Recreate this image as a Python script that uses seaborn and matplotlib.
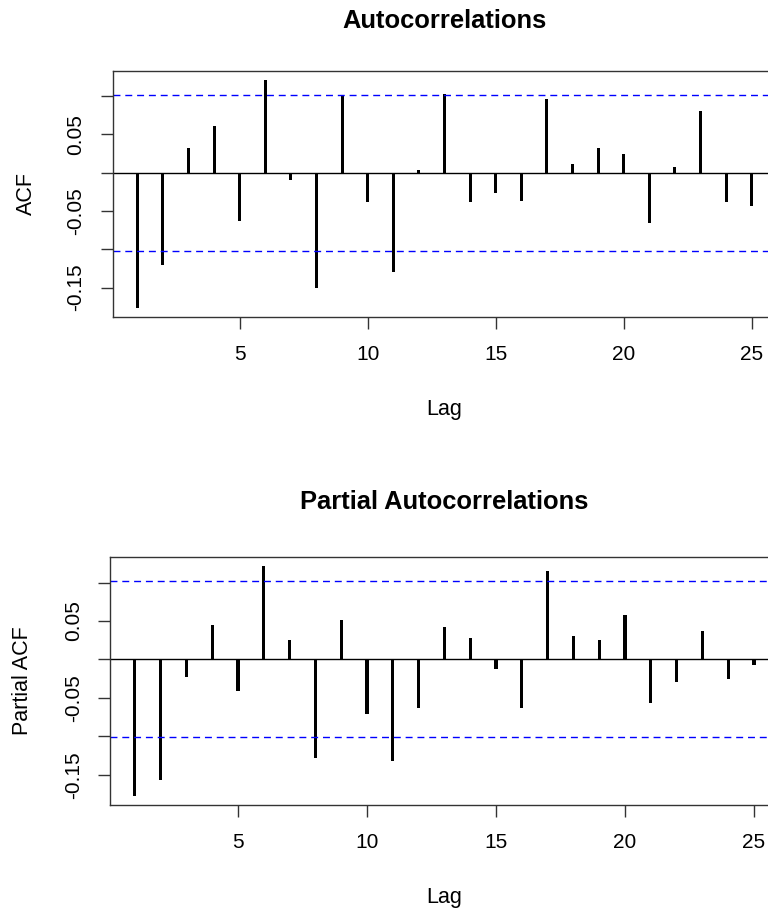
import numpy as np
import pandas as pd
import matplotlib
matplotlib.use("Agg")
import matplotlib.pyplot as plt
import seaborn as sns

# values (lags 1..25)
lags = list(range(1, 26))
acf_vals = [-0.176, -0.120, 0.033, 0.061, -0.063, 0.121, -0.009, -0.150, 0.100, -0.038,
            -0.129, 0.003, 0.103, -0.038, -0.026, -0.037, 0.096, 0.011, 0.032, 0.025,
            -0.065, 0.008, 0.081, -0.038, -0.044]
pacf_vals = [-0.177, -0.157, -0.023, 0.045, -0.041, 0.121, 0.025, -0.128, 0.052, -0.071,
             -0.132, -0.063, 0.042, 0.028, -0.013, -0.063, 0.115, 0.030, 0.025, 0.058,
             -0.057, -0.029, 0.037, -0.025, -0.007]
conf_bound = 0.1015
ytick_vals = [-0.15, -0.10, -0.05, 0.0, 0.05, 0.10]
ytick_labels = ["-0.15", "", "-0.05", "", "0.05", ""]
xtick_vals = [5, 10, 15, 20, 25]

plt.rcParams['font.family'] = ['Liberation Sans', 'DejaVu Sans']

df = pd.DataFrame({'lag': lags, 'acf': acf_vals, 'pacf': pacf_vals})

fig = plt.figure(figsize=(7.68, 9.11), dpi=100, facecolor='white')
ax1 = fig.add_axes([112.7/768, 1-316.7/911, 663.6/768, 245.7/911])
ax2 = fig.add_axes([110.0/768, 1-804.7/911, 668.8/768, 247.4/911])

def acf_panel(ax, col, title, ylab, tpad, ylpad):
    sns.barplot(data=df, x='lag', y=col, native_scale=True, width=0.12,
                color='black', linewidth=0, errorbar=None, ax=ax, saturation=1)
    ax.axhline(0, color='black', lw=1.0)
    ax.axhline(conf_bound, color='#0000ff', lw=1.0, dashes=(5, 3.5))
    ax.axhline(-conf_bound, color='#0000ff', lw=1.0, dashes=(5, 3.5))
    vals = df[col]
    lo = min(vals.min(), -conf_bound)
    hi = max(vals.max(), conf_bound)
    pad = 0.04*(hi-lo)
    ax.set_ylim(lo-pad, hi+pad)
    ax.set_xlim(1-0.04*24, 25+0.04*24)
    ax.set_xticks(xtick_vals)
    ax.set_xticklabels([str(v) for v in xtick_vals])
    ax.set_yticks(ytick_vals)
    ax.set_yticklabels(ytick_labels)
    ax.tick_params(axis='both', length=8.6, width=1.0, labelsize=15, color='#333333')
    ax.tick_params(axis='x', pad=12)
    ax.tick_params(axis='y', pad=11, labelrotation=90)
    for lab in ax.get_yticklabels():
        lab.set_va('center')
    for s in ax.spines.values():
        s.set_linewidth(1.0)
        s.set_color('#333333')
    ax.set_xlabel("Lag", fontsize=15.5, labelpad=25)
    ax.set_ylabel(ylab, fontsize=15.5, labelpad=ylpad)
    ax.set_title(title, fontsize=18.4, fontweight='bold', pad=tpad)

acf_panel(ax1, 'acf', "Autocorrelations", "ACF", 31, 21)
acf_panel(ax2, 'pacf', "Partial Autocorrelations", "Partial ACF", 35, 22)

fig.savefig('out.png', dpi=100, facecolor='white')
